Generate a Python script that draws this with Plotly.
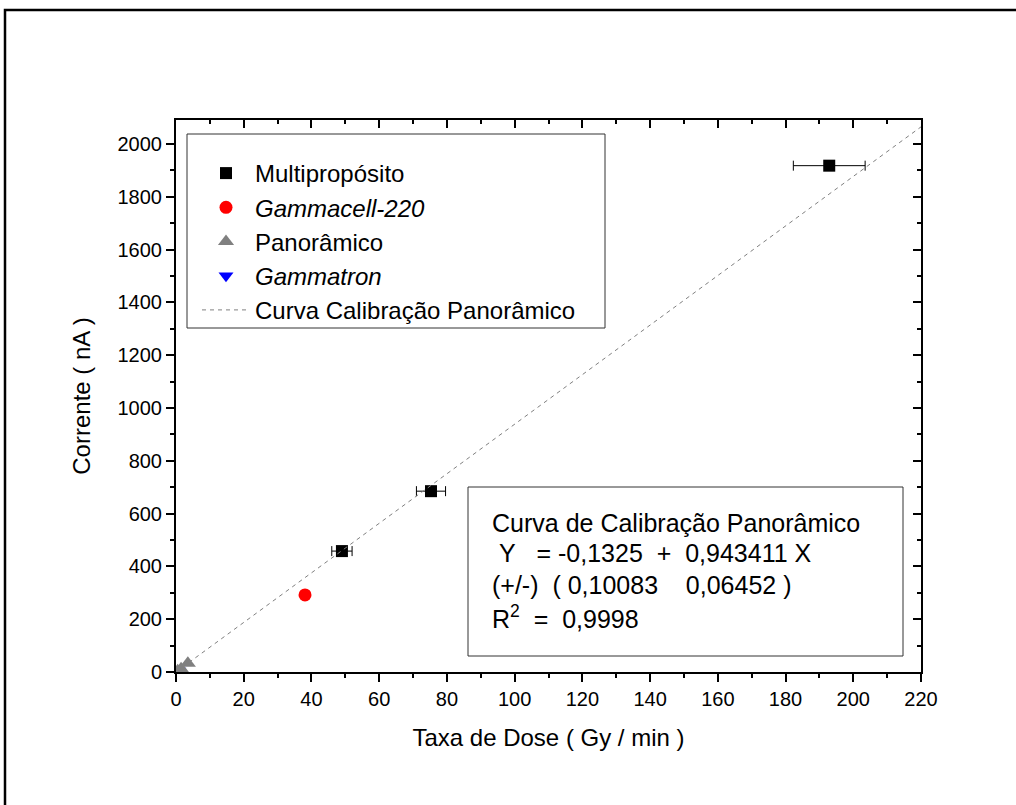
import plotly.graph_objects as go

# ---- data ----
multi_x = [49.0, 75.3, 192.9]
multi_y = [458, 685, 1918]
multi_xerr = [3.0, 4.3, 10.6]

gcell_x = [38.1]
gcell_y = [292]

pano_x = [0.5, 1.5, 3.5]
pano_y = [5, 12, 33]

gtron_x = [0.8]
gtron_y = [4]
gtron_xerr = [0.8]

fit_x = [0, 220]
fit_y = [0, 2065]

eq_lines = [
    "Curva de Calibração Panorâmico",
    " Y   = -0,1325  +  0,943411 X",
    "(+/-)  ( 0,10083    0,06452 )",
    "R<sup>2</sup>  =  0,9998",
]

FONT = "Liberation Sans, Arial, sans-serif"

# plot area in pixels
W, H = 1016, 805
L, R, T, B = 176, 921, 120, 672


def px(x):
    return (x - L) / (R - L)


def py(y):
    return (B - y) / (B - T)


fig = go.Figure()

fig.add_trace(go.Scatter(
    x=multi_x, y=multi_y, mode="markers", name="Multipropósito",
    marker=dict(symbol="square", size=12, color="black"),
    error_x=dict(type="data", array=multi_xerr, color="black", thickness=1, width=5),
    legendrank=1,
))
fig.add_trace(go.Scatter(
    x=gcell_x, y=gcell_y, mode="markers", name="<i>Gammacell-220</i>",
    marker=dict(symbol="circle", size=13, color="red"),
    legendrank=2,
))
fig.add_trace(go.Scatter(
    x=gtron_x, y=gtron_y, mode="markers", name="<i>Gammatron</i>",
    marker=dict(symbol="triangle-down", size=13, color="blue"),
    error_x=dict(type="data", array=gtron_xerr, color="blue", thickness=1, width=3),
    legendrank=4,
))
fig.add_trace(go.Scatter(
    x=pano_x, y=pano_y, mode="markers", name="Panorâmico",
    marker=dict(symbol="triangle-up", size=14, color="gray"),
    legendrank=3,
))
fig.add_trace(go.Scatter(
    x=fit_x, y=fit_y, mode="lines", name="Curva Calibração Panorâmico",
    line=dict(color="gray", width=1, dash="4px,4px"),
    legendrank=5,
))

axis_common = dict(
    showline=True, linecolor="black", linewidth=2, showgrid=False, zeroline=False,
    tickfont=dict(family=FONT, size=20, color="black"),
    ticks="outside", ticklen=8, tickwidth=2, tickcolor="black",
)

fig.update_layout(
    width=W, height=H,
    margin=dict(l=L, r=W - R, t=T, b=H - B),
    paper_bgcolor="white", plot_bgcolor="white",
    font=dict(family=FONT, color="black"),
    showlegend=True,
    legend=dict(
        x=px(197), y=py(151), xanchor="left", yanchor="top",
        bgcolor="rgba(0,0,0,0)", borderwidth=0,
        font=dict(family=FONT, size=24, color="black"),
        tracegroupgap=0, itemwidth=48,
    ),
    xaxis=dict(
        range=[0, 220], dtick=20, tick0=0,
        title=dict(text="Taxa de Dose ( Gy / min )", font=dict(family=FONT, size=24, color="black"), standoff=20),
        minor=dict(dtick=10, ticks="outside", ticklen=4, tickwidth=2, tickcolor="black"),
        **axis_common,
    ),
    yaxis=dict(
        range=[0, 2091], dtick=200, tick0=0,
        title=dict(text="Corrente ( nA )", font=dict(family=FONT, size=24, color="black"), standoff=20),
        minor=dict(dtick=100, ticks="outside", ticklen=4, tickwidth=2, tickcolor="black"),
        **axis_common,
    ),
    xaxis2=dict(
        overlaying="x", side="top", matches="x", range=[0, 220], dtick=20, tick0=0,
        showticklabels=False, showline=True, linecolor="black", linewidth=2, showgrid=False, zeroline=False,
        ticks="inside", ticklen=8, tickwidth=2, tickcolor="black",
        minor=dict(dtick=10, ticks="inside", ticklen=4, tickwidth=2, tickcolor="black"),
    ),
    yaxis2=dict(
        overlaying="y", side="right", matches="y", range=[0, 2091], dtick=200, tick0=0,
        showticklabels=False, showline=True, linecolor="black", linewidth=2, showgrid=False, zeroline=False,
        ticks="inside", ticklen=8, tickwidth=2, tickcolor="black",
        minor=dict(dtick=100, ticks="inside", ticklen=4, tickwidth=2, tickcolor="black"),
    ),
)

# invisible trace to activate secondary axes
fig.add_trace(go.Scatter(x=[None], y=[None], xaxis="x2", yaxis="y2", showlegend=False, hoverinfo="skip"))

shapes = [
    # outer frame
    dict(type="rect", xref="paper", yref="paper",
         x0=px(5), y0=py(812), x1=px(1024), y1=py(10),
         line=dict(color="black", width=2.5), fillcolor="rgba(0,0,0,0)", layer="above"),
    # legend box
    dict(type="rect", xref="paper", yref="paper",
         x0=px(187), y0=py(328), x1=px(605), y1=py(134),
         line=dict(color="#333333", width=1), fillcolor="rgba(0,0,0,0)", layer="above"),
    # equation box
    dict(type="rect", xref="paper", yref="paper",
         x0=px(468), y0=py(656), x1=px(903), y1=py(487),
         line=dict(color="#333333", width=1), fillcolor="white", layer="below"),
]
fig.update_layout(shapes=shapes)

line_y = [523, 553, 585, 617]
for txt, yy in zip(eq_lines, line_y):
    fig.add_annotation(
        xref="paper", yref="paper", x=px(490), y=py(yy), xanchor="left", yanchor="middle",
        text=txt.replace(" ", "&nbsp;") if "sup" not in txt else txt.replace("  ", "&nbsp;&nbsp;"),
        showarrow=False, align="left",
        font=dict(family=FONT, size=25, color="black"),
    )

fig.write_html("out.html")
